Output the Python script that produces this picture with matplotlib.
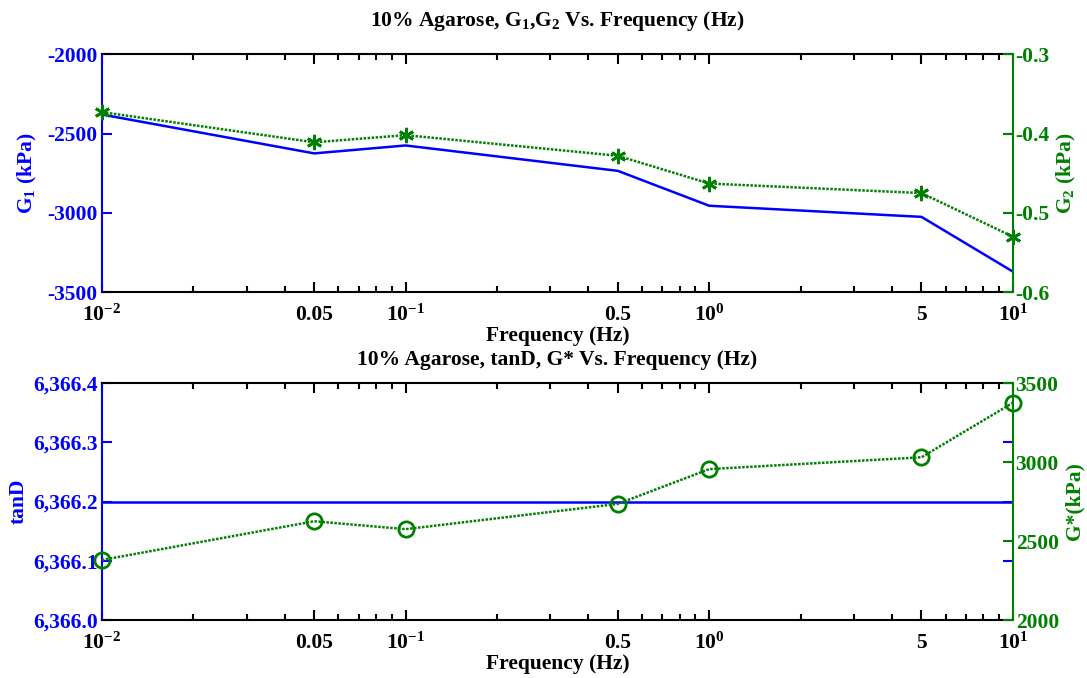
import matplotlib
matplotlib.use("Agg")
import matplotlib.pyplot as plt
from matplotlib.ticker import FixedLocator, LogLocator, NullFormatter, FuncFormatter

plt.rcParams['font.family'] = 'Liberation Serif'
plt.rcParams['font.weight'] = 'bold'
plt.rcParams['axes.unicode_minus'] = False
plt.rcParams['mathtext.fontset'] = 'custom'
plt.rcParams['mathtext.rm'] = 'Liberation Serif:bold'
plt.rcParams['mathtext.it'] = 'Liberation Serif:bold'
plt.rcParams['mathtext.bf'] = 'Liberation Serif:bold'

freq = [0.01, 0.05, 0.1, 0.5, 1, 5, 10]
g1 = [-2380, -2625, -2575, -2735, -2955, -3025, -3370]
g2 = [-0.373, -0.411, -0.402, -0.428, -0.463, -0.475, -0.530]
tand = [6366.2, 6366.2, 6366.2, 6366.2, 6366.2, 6366.2, 6366.2]
gstar = [2380, 2625, 2575, 2735, 2955, 3030, 3375]

xticks = [0.01, 0.05, 0.1, 0.5, 1, 5, 10]
xticklabels = ['$10^{-2}$', '0.05', '$10^{-1}$', '0.5', '$10^{0}$', '5', '$10^{1}$']

BLUE = '#0000ff'
GREEN = '#008000'
FS = 15.5

fig = plt.figure(figsize=(10.87, 6.78), dpi=100)


def setup_x(ax):
    ax.set_xscale('log')
    ax.set_xlim(0.01, 10)
    ax.xaxis.set_major_locator(FixedLocator(xticks))
    ax.set_xticklabels(xticklabels, fontsize=FS, fontweight='bold')
    ax.xaxis.set_minor_locator(LogLocator(base=10, subs=[2, 3, 4, 6, 7, 8, 9]))
    ax.xaxis.set_minor_formatter(NullFormatter())
    ax.tick_params(axis='x', which='major', direction='in', length=7, width=1.5,
                   top=True, pad=9)
    ax.tick_params(axis='x', which='minor', direction='in', length=4, width=1.5,
                   top=True)
    ax.set_xlabel('Frequency (Hz)', fontsize=FS, fontweight='bold', labelpad=0)
    for s in ['top', 'bottom']:
        ax.spines[s].set_linewidth(1.5)


def two_axes(rect):
    ax = fig.add_axes(rect)
    ax2 = ax.twinx()
    setup_x(ax)
    ax2.tick_params(axis='x', which='both', bottom=False, top=False)
    ax.spines['left'].set_color(BLUE)
    ax.spines['right'].set_visible(False)
    ax2.spines['right'].set_color(GREEN)
    ax2.spines['left'].set_visible(False)
    ax2.spines['top'].set_visible(False)
    ax2.spines['bottom'].set_visible(False)
    ax.spines['left'].set_linewidth(1.5)
    ax2.spines['right'].set_linewidth(1.5)
    ax.tick_params(axis='y', direction='in', length=7, width=1.5, colors=BLUE,
                   right=True, labelsize=FS, pad=3)
    ax2.tick_params(axis='y', direction='in', length=7, width=1.5, colors=GREEN,
                    labelsize=FS, pad=2)
    return ax, ax2


# top panel: storage and loss modulus
ax1, ax1r = two_axes([0.0938, 0.569, 0.838, 0.351])
ax1.plot(freq, g1, color=BLUE, lw=1.8)
ax1.set_ylim(-3500, -2000)
ax1.set_yticks([-3500, -3000, -2500, -2000])
ax1.set_ylabel('G$_1$ (kPa)', color=BLUE, fontsize=FS, fontweight='bold', labelpad=6)
ax1r.plot(freq, g2, color=GREEN, lw=1.8, ls=(0, (1, 0.6)), marker=(6, 2, 0),
          ms=11, mew=2, clip_on=False)
ax1r.set_ylim(-0.6, -0.3)
ax1r.set_yticks([-0.6, -0.5, -0.4, -0.3])
ax1r.yaxis.set_major_formatter(FuncFormatter(lambda v, p: f'{v:.1f}'))
ax1r.set_ylabel('G$_2$ (kPa)', color=GREEN, fontsize=FS, fontweight='bold', labelpad=4)
ax1.set_title('10% Agarose, G$_1$,G$_2$ Vs. Frequency (Hz)', fontsize=15.5,
              fontweight='bold', pad=20)

# bottom panel: loss tangent and complex modulus
ax2, ax2r = two_axes([0.0938, 0.0855, 0.838, 0.3496])
ax2.plot(freq, tand, color=BLUE, lw=1.8)
ax2.set_ylim(6366.0, 6366.4)
ax2.set_yticks([6366.0, 6366.1, 6366.2, 6366.3, 6366.4])
ax2.yaxis.set_major_formatter(FuncFormatter(lambda v, p: f'{v:,.1f}'))
ax2.set_ylabel('tanD', color=BLUE, fontsize=FS, fontweight='bold', labelpad=3)
ax2r.plot(freq, gstar, color=GREEN, lw=1.8, ls=(0, (1, 0.6)), marker='o', ms=11,
          mfc='none', mew=2, clip_on=False)
ax2r.set_ylim(2000, 3500)
ax2r.set_yticks([2000, 2500, 3000, 3500])
ax2r.set_ylabel('G*(kPa)', color=GREEN, fontsize=FS, fontweight='bold', labelpad=4)
ax2.set_title('10% Agarose, tanD, G* Vs. Frequency (Hz)', fontsize=15.5,
              fontweight='bold', pad=13)

fig.savefig('out.png', dpi=100)
